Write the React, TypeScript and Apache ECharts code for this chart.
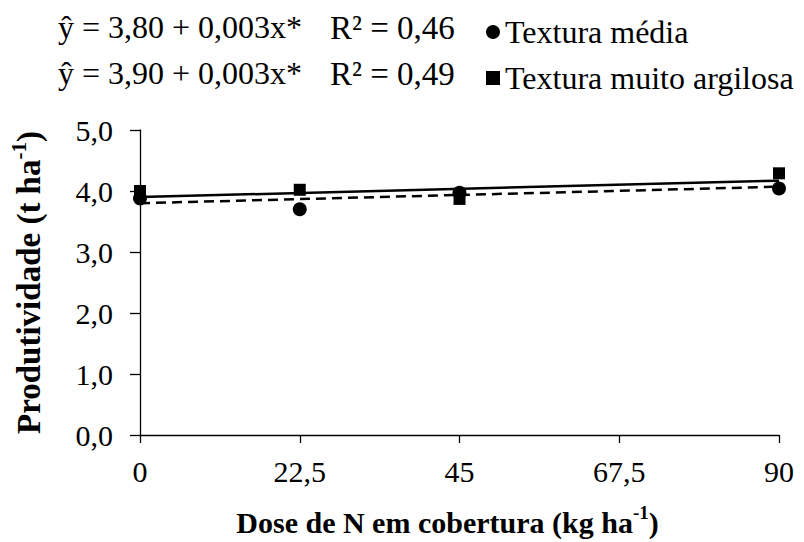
import React, { useEffect, useRef } from "react";
import * as echarts from "echarts";

const doses = [0, 22.5, 45, 90];
const texturaMedia = [3.88, 3.7, 3.97, 4.04];
const texturaMuitoArgilosa = [4.0, 4.02, 3.87, 4.29];
const xTicks = [0, 22.5, 45, 67.5, 90];
const intercepts = [3.8, 3.9];
const slopes = [0.003, 0.003];
const equations = ["ŷ = 3,80 + 0,003x*", "ŷ = 3,90 + 0,003x*"];
const r2Labels = ["R² = 0,46", "R² = 0,49"];
const seriesNames = ["Textura média", "Textura muito argilosa"];

const FONT = "Times New Roman, Liberation Serif, DejaVu Serif, serif";
const fmt = (v: number) => String(v).replace(".", ",");

export default function App() {
  const ref = useRef<HTMLDivElement>(null);
  useEffect(() => {
    if (!ref.current) return;
    const chart = echarts.init(ref.current, null, { renderer: "svg" });
    const xMin = xTicks[0];
    const xMax = xTicks[xTicks.length - 1];
    const fit = (i: number) => [
      [xMin, intercepts[i] + slopes[i] * xMin],
      [xMax, intercepts[i] + slopes[i] * xMax],
    ];
    const richName = (size: number) => ({
      b: { fontFamily: FONT, fontSize: size, fontWeight: "bold", color: "#000", lineHeight: size + 4, verticalAlign: "bottom" },
      s: { fontFamily: FONT, fontSize: Math.round(size * 0.63), fontWeight: "bold", color: "#000", lineHeight: size + 4, verticalAlign: "top", padding: [0, 0, 12, 0] },
    });
    const option: any = {
      animation: false,
      backgroundColor: "#ffffff",
      textStyle: { fontFamily: FONT },
      grid: { left: 140, right: 25, top: 130, bottom: 104, containLabel: false },
      legend: {
        orient: "vertical",
        left: 481,
        top: 11,
        itemWidth: 14,
        itemHeight: 14,
        itemGap: 14,
        textStyle: { fontFamily: FONT, fontSize: 32, color: "#000", lineHeight: 32 },
        data: [
          { name: seriesNames[0], icon: "circle" },
          { name: seriesNames[1], icon: "rect" },
        ],
      },
      graphic: [0, 1].flatMap((i) => [
        {
          type: "text",
          left: 58,
          top: 11 + i * 46,
          style: { text: equations[i], fontFamily: FONT, fontSize: 32, fill: "#000" },
        },
        {
          type: "text",
          left: 330,
          top: 11 + i * 46,
          style: { text: r2Labels[i], fontFamily: FONT, fontSize: 33, fill: "#000" },
        },
      ]),
      xAxis: {
        type: "value",
        min: xMin,
        max: xMax,
        interval: 22.5,
        splitLine: { show: false },
        axisLine: { lineStyle: { color: "#000", width: 1.3 } },
        axisTick: { show: true, length: 8, lineStyle: { color: "#000", width: 1.3 } },
        axisLabel: {
          color: "#000",
          fontFamily: FONT,
          fontSize: 30,
          margin: 21,
          formatter: (v: number) => fmt(v),
        },
        name: "{b|Dose de N em cobertura (kg ha}{s|-1}{b|)}",
        nameLocation: "middle",
        nameGap: 68,
        nameTextStyle: { padding: [0, 24, 0, 0], rich: richName(30) },
      },
      yAxis: {
        type: "value",
        min: 0,
        max: 5,
        interval: 1,
        splitLine: { show: false },
        axisLine: { show: true, lineStyle: { color: "#000", width: 1.3 } },
        axisTick: { show: true, length: 10, lineStyle: { color: "#000", width: 1.3 } },
        axisLabel: {
          color: "#000",
          fontFamily: FONT,
          fontSize: 30,
          margin: 27,
          formatter: (v: number) => v.toFixed(1).replace(".", ","),
        },
        name: "{b|Produtividade (t ha}{s|-1}{b|)}",
        nameLocation: "middle",
        nameGap: 95,
        nameRotate: 90,
        nameTextStyle: { rich: richName(33) },
      },
      series: [
        {
          name: seriesNames[1] + " ajuste",
          type: "line",
          data: fit(1),
          symbol: "none",
          lineStyle: { color: "#000", width: 2.5, type: "solid" },
          z: 2,
        },
        {
          name: seriesNames[0] + " ajuste",
          type: "line",
          data: fit(0),
          symbol: "none",
          lineStyle: { color: "#000", width: 2.5, type: [10, 6] },
          z: 2,
        },
        {
          name: seriesNames[0],
          type: "scatter",
          symbol: "circle",
          symbolSize: 14,
          itemStyle: { color: "#000", opacity: 1 },
          data: doses.map((d, i) => [d, texturaMedia[i]]),
          z: 3,
        },
        {
          name: seriesNames[1],
          type: "scatter",
          symbol: "rect",
          symbolSize: 12,
          itemStyle: { color: "#000", opacity: 1 },
          data: doses.map((d, i) => [d, texturaMuitoArgilosa[i]]),
          z: 3,
        },
      ],
    };
    chart.setOption(option);
    return () => chart.dispose();
  }, []);
  return (
    <div
      ref={ref}
      style={{ position: "absolute", left: 0, top: 0, width: 804, height: 542, background: "#fff" }}
    />
  );
}
